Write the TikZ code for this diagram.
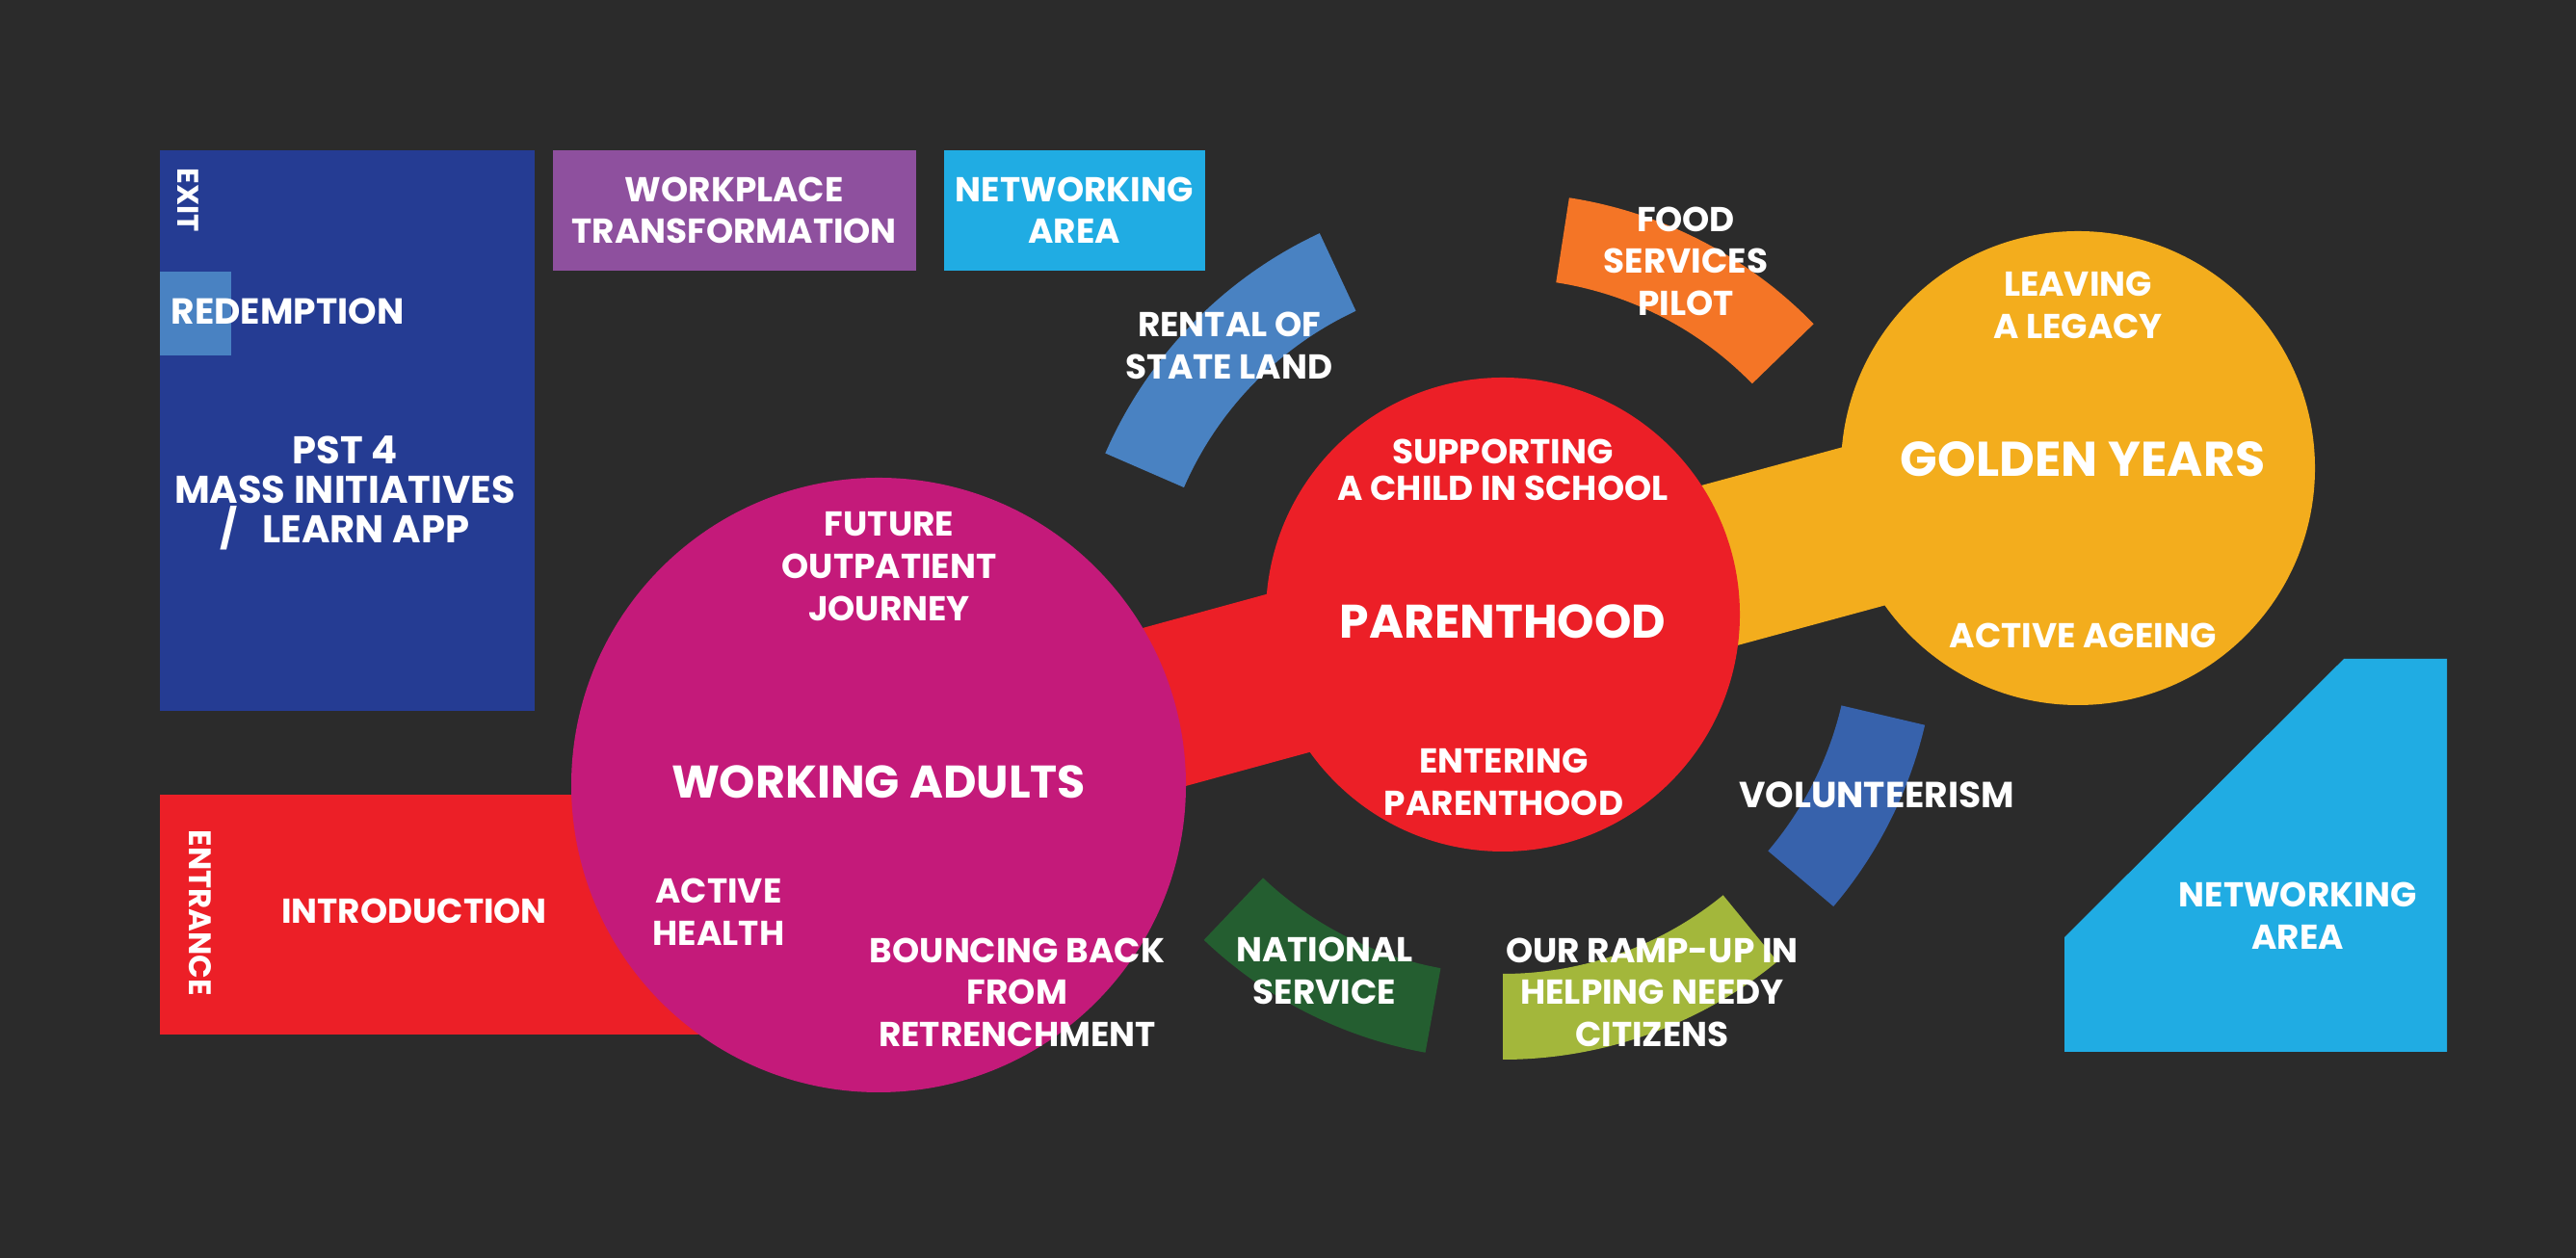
\documentclass[tikz,border=0pt]{standalone}
\usepackage{fontspec}
\setmainfont{Poppins}
\usetikzlibrary{positioning, calc}

\definecolor{bgdark}{RGB}{43,43,43}
\definecolor{pstblue}{RGB}{37,60,147}
\definecolor{lightblue}{RGB}{73,130,194}
\definecolor{wpurple}{RGB}{142,80,158}
\definecolor{netcyan}{RGB}{32,172,227}
\definecolor{parred}{RGB}{236,31,39}
\definecolor{wamagenta}{RGB}{196,26,122}
\definecolor{gold}{RGB}{243,173,29}
\definecolor{foodorange}{RGB}{244,117,38}
\definecolor{volblue}{RGB}{55,98,172}
\definecolor{rampolive}{RGB}{163,183,59}
\definecolor{nsgreen}{RGB}{36,94,48}

\pgfdeclarelayer{back}
\pgfdeclarelayer{bands}
\pgfsetlayers{back,bands,main}

\begin{document}
\begin{tikzpicture}[
    room/.style={inner sep=0pt, anchor=north west},
    zone/.style={circle, inner sep=0pt},
    txt/.style={text=white, align=center, inner sep=0pt,
                font=\fontsize{10.2}{12.4}\selectfont\bfseries},
    bigtxt/.style={txt, font=\fontsize{13.5}{16}\selectfont\bfseries},
    sidetxt/.style={txt, rotate=-90, font=\fontsize{8.8}{10}\selectfont\bfseries},
    band/.style={line width=1.7cm},
]

\useasboundingbox (0,0) rectangle (26.74,13.06);
\begin{pgfonlayer}{back}
    \fill[bgdark] (0,0) rectangle (26.74,13.06);
\end{pgfonlayer}

% ---- Rooms on the left ----
\node[room, fill=pstblue, minimum width=3.89cm, minimum height=5.82cm] (pst) at (1.65,11.51) {};
\node[room, fill=lightblue, minimum width=0.74cm, minimum height=0.87cm] (redbox) at (1.65,10.25) {};
\node[txt, anchor=west, font=\fontsize{10.7}{12.4}\selectfont\bfseries] (redemption) at (1.77,9.83) {REDEMPTION};
\node[sidetxt] (exit) at (1.95,10.98) {EXIT};
\node[txt, font=\fontsize{11.4}{11.6}\selectfont\bfseries] (pstlabel) at (3.58,7.94)
    {PST 4\\MASS INITIATIVES\\ /\ \ \ LEARN APP};

\node[room, txt, fill=wpurple, minimum width=3.77cm, minimum height=1.25cm] (workplace) at (5.73,11.51)
    {WORKPLACE\\TRANSFORMATION};
\node[room, txt, fill=netcyan, minimum width=2.71cm, minimum height=1.25cm] (nettop) at (9.79,11.51)
    {NETWORKING\\AREA};

\node[room, fill=parred, minimum width=7.47cm, minimum height=2.49cm] (entrance) at (1.65,4.82) {};
\node[sidetxt, font=\fontsize{9.2}{10}\selectfont\bfseries] (entlabel) at (2.08,3.58) {ENTRANCE};
\node[txt] (intro) at (4.30,3.60) {INTRODUCTION};

% ---- Networking area, bottom right ----
\fill[netcyan] (21.43,3.33) -- (24.33,6.22) -- (25.40,6.22) -- (25.40,2.14) -- (21.43,2.14) -- cycle;
\node[txt] (netbottom) at (23.85,3.55) {NETWORKING\\AREA};

% ---- Life stages ----
\node[zone, fill=wamagenta, minimum size=6.38cm] (wa) at (9.12,4.91) {};
\node[zone, fill=parred, minimum size=4.92cm] (par) at (15.60,6.68) {};
\node[zone, fill=gold, minimum size=4.92cm] (gy) at (21.57,8.20) {};

% bands between the stages
\begin{pgfonlayer}{bands}
    \draw[band, parred] (wa.center) -- (par.center);
    \draw[band, gold] ($(par.center)+(0,-0.1)$) -- (gy.center);
\end{pgfonlayer}

% ring of initiatives round parenthood
\coordinate (ring) at ($(par.center)+(0,-0.12)$);
\foreach \a/\b/\col in {115/156.5/lightblue, 44.2/81.2/foodorange, -40.3/-13.2/volblue,
                        -90/-50.7/rampolive, -133.6/-100.3/nsgreen}
    \fill[\col] ([shift={(\a:3.61)}]ring) arc[start angle=\a, end angle=\b, radius=3.61]
        -- ([shift={(\b:4.50)}]ring) arc[start angle=\b, end angle=\a, radius=4.50] -- cycle;

% ---- Labels ----
\node[txt] (future) at (9.23,7.18) {FUTURE\\OUTPATIENT\\JOURNEY};
\node[bigtxt] (walabel) at (9.12,4.94) {WORKING ADULTS};
\node[txt] (health) at (7.46,3.59) {ACTIVE\\HEALTH};
\node[txt] (bouncing) at (10.56,2.76) {BOUNCING BACK\\FROM\\RETRENCHMENT};

\node[txt, font=\fontsize{10.2}{10.6}\selectfont\bfseries] (school) at (15.60,8.18)
    {SUPPORTING\\A CHILD IN SCHOOL};
\node[bigtxt, font=\fontsize{13.9}{16}\selectfont\bfseries] (parlabel) at (15.60,6.61) {PARENTHOOD};
\node[txt] (entering) at (15.61,4.94) {ENTERING\\PARENTHOOD};

\node[txt] (legacy) at (21.57,9.89) {LEAVING\\A LEGACY};
\node[bigtxt, font=\fontsize{14.4}{16}\selectfont\bfseries] (gylabel) at (21.62,8.29) {GOLDEN YEARS};
\node[txt] (ageing) at (21.62,6.46) {ACTIVE AGEING};

\node[txt] (rental) at (12.76,9.47) {RENTAL OF\\STATE LAND};
\node[txt] (food) at (17.50,10.35) {FOOD\\SERVICES\\PILOT};
\node[txt, font=\fontsize{10.7}{12.4}\selectfont\bfseries] (volunteer) at (19.48,4.81) {VOLUNTEERISM};
\node[txt] (ramp) at (17.15,2.76) {OUR RAMP-UP IN\\HELPING NEEDY\\CITIZENS};
\node[txt] (national) at (13.75,2.98) {NATIONAL\\SERVICE};

\end{tikzpicture}
\end{document}
